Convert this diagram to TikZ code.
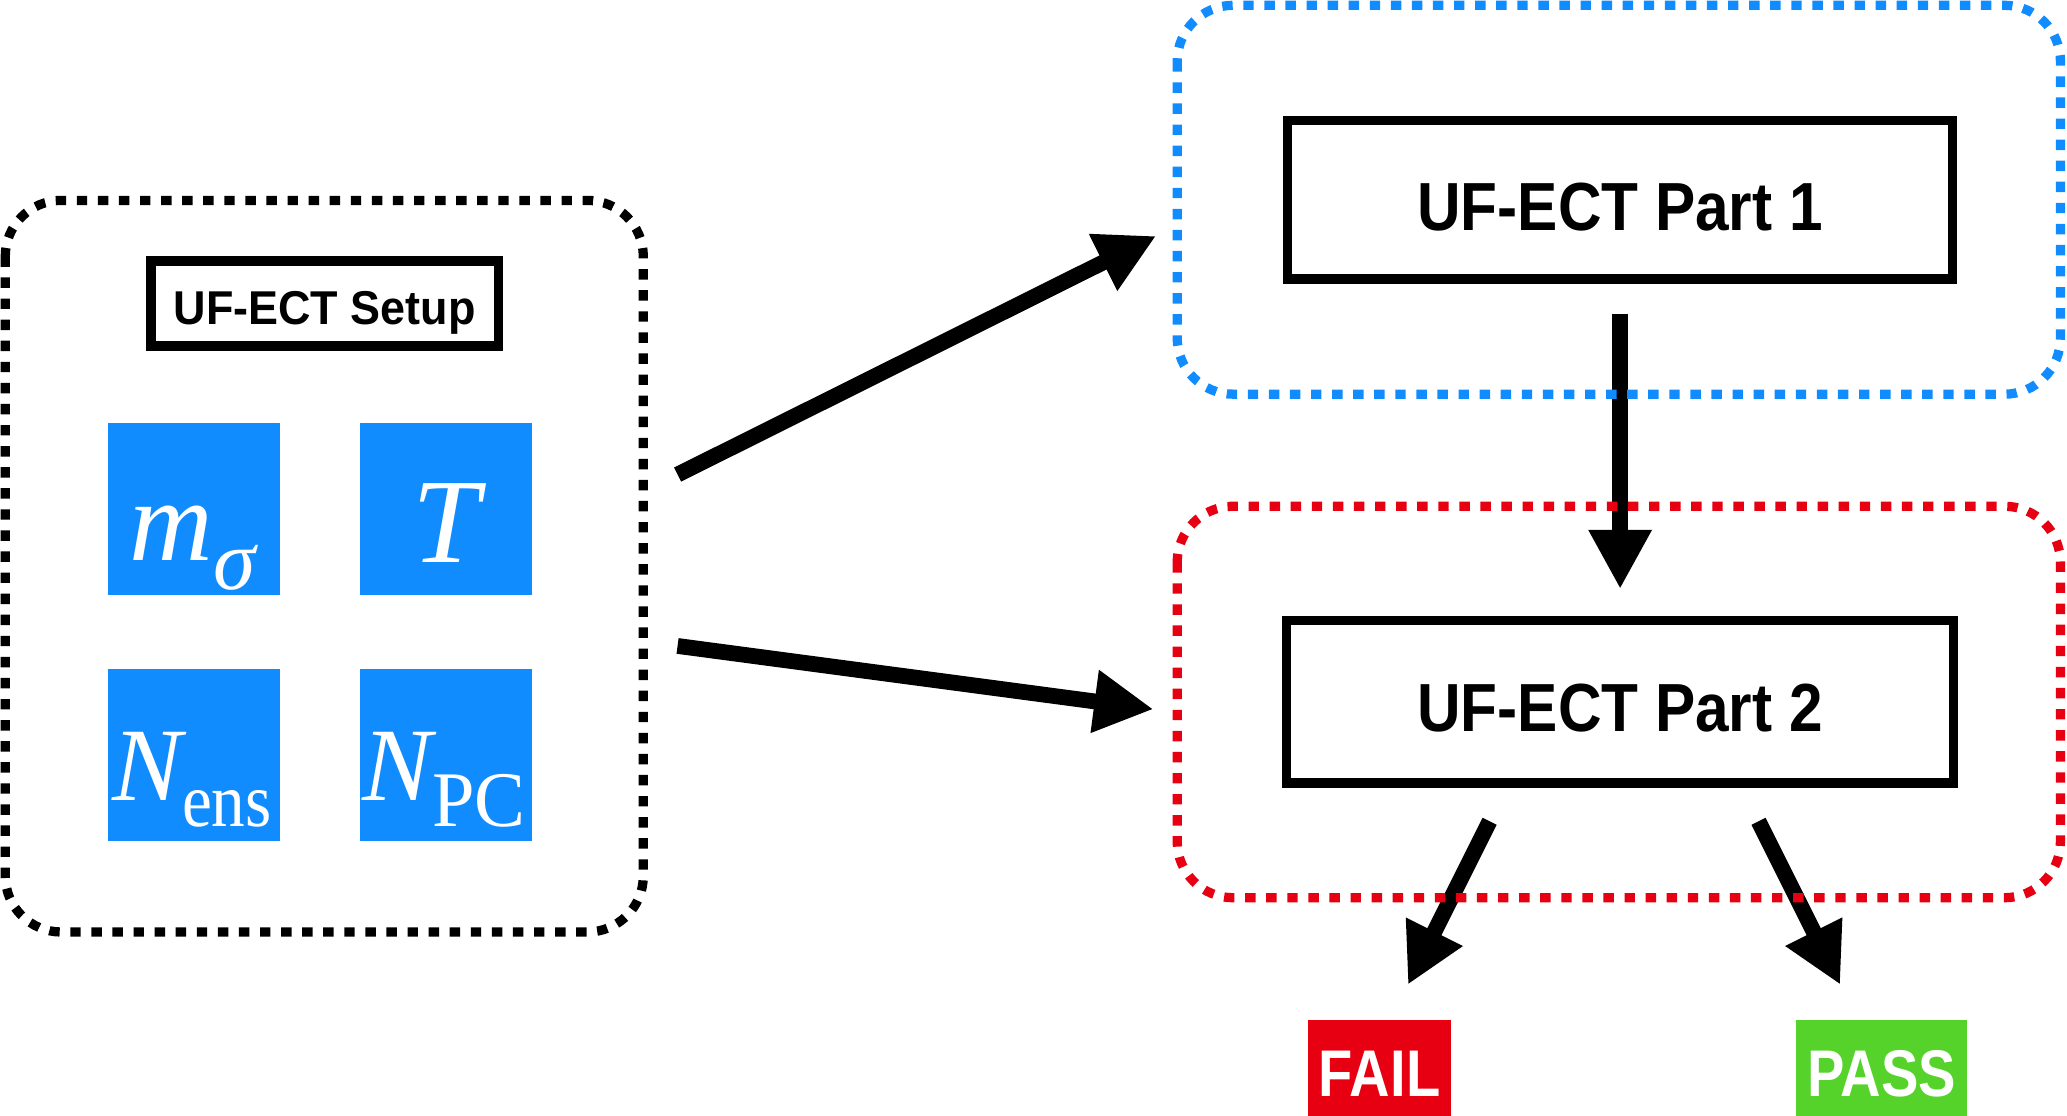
\documentclass[tikz,border=0pt]{standalone}
\usepackage{fontspec}
\usepackage{graphicx}
\usetikzlibrary{arrows.meta}
\newfontfamily\lab{Liberation Sans}
\newfontfamily\tms{Liberation Serif}
\definecolor{ublue}{RGB}{17,140,255}
\definecolor{ured}{RGB}{230,0,18}
\definecolor{ugreen}{RGB}{86,211,42}
\begin{document}
\begin{tikzpicture}[x=0.02cm,y=-0.02cm,
  grp/.style={rounded corners=0.85cm, line width=4pt, dash pattern=on 4.5pt off 4.6pt},
  stepbox/.style={draw, line width=4pt, inner sep=0pt, outer sep=0pt, font=\lab\bfseries},
  bsq/.style={fill=ublue, minimum size=74.3pt, inner sep=0pt, outer sep=0pt},
  mtext/.style={text=white, font=\tms, inner sep=0pt, anchor=base west},
  arr/.style={line width=6.8pt, -{Triangle[length=25.6pt,width=25.6pt]}},
  verdict/.style={text=white, font=\lab\bfseries, inner sep=0pt, outer sep=0pt,
    minimum height=45.5pt, text height=20.4pt, text depth=0pt}
]
\useasboundingbox (0,0) rectangle (1568,846);

% setup group
\node[stepbox, minimum width=150pt, minimum height=36.7pt, text height=18.3pt, text depth=0pt]
  (setup) at (246.3,230.2) {\fontsize{20.5pt}{22pt}\selectfont\scalebox{0.946}[1]{UF-ECT Setup}};

\node[bsq] (sqm) at (147,386.4) {};
\node[bsq] (sqt) at (338,386.4) {};
\node[bsq] (sqe) at (147,572.5) {};
\node[bsq] (sqp) at (338,572.5) {};

\node[mtext] (tm) at (98,425) {\fontsize{50pt}{50pt}\selectfont\itshape m\raisebox{-12.5pt}{\fontsize{37pt}{37pt}\selectfont σ}};
\node[mtext, anchor=base] (tt) at (338.5,427) {\fontsize{52pt}{52pt}\selectfont\itshape T};
\node[mtext] (te) at (85,607) {\fontsize{45pt}{45pt}\selectfont{\itshape N}\raisebox{-11.4pt}{\fontsize{33pt}{33pt}\selectfont\scalebox{0.88}[1]{ens}}};
\node[mtext] (tp) at (275,607) {\fontsize{45pt}{45pt}\selectfont{\itshape N}\raisebox{-11.4pt}{\fontsize{34pt}{34pt}\selectfont\scalebox{0.97}[1]{PC}}};

% parts
\node[stepbox, minimum width=287pt, minimum height=68.5pt, text height=26.7pt, text depth=0pt]
  (p1) at (1229,151.5) {\fontsize{29.4pt}{30pt}\selectfont\scalebox{0.886}[1]{UF-ECT Part 1}};
\node[stepbox, minimum width=288pt, minimum height=70pt, text height=25.6pt, text depth=0pt]
  (p2) at (1229,532.4) {\fontsize{29.4pt}{30pt}\selectfont\scalebox{0.886}[1]{UF-ECT Part 2}};

% verdicts
\node[verdict, fill=ured, minimum width=61.7pt] (fail) at (1046.5,814)
  {\fontsize{28.5pt}{30pt}\selectfont\scalebox{0.85}[1]{FAIL}};
\node[verdict, fill=ugreen, minimum width=73.8pt] (pass) at (1427.4,814)
  {\fontsize{28.5pt}{30pt}\selectfont\scalebox{0.85}[1]{PASS}};

% connectors
\coordinate (a1s) at (514,360);
\coordinate (a1e) at (877,179);
\coordinate (a2s) at (514,490);
\coordinate (a2e) at (875,538);
\coordinate (f0) at (1130,623);
\coordinate (f1) at (1068,747);
\coordinate (s0) at (1334,623);
\coordinate (s1) at (1396,747);
\draw[arr] (a1s) -- (a1e);
\draw[arr] (a2s) -- (a2e);
\draw[arr, shorten <=15pt, shorten >=13.7pt] (p1.south) -- (p2.north);
\draw[arr] (f0) -- (f1);
\draw[arr] (s0) -- (s1);

% groups
\draw[grp, black] (4,152) rectangle (488,707);
\draw[grp, ublue] (893,4) rectangle (1563,299);
\draw[grp, ured] (893,384) rectangle (1563,681);
\end{tikzpicture}
\end{document}
